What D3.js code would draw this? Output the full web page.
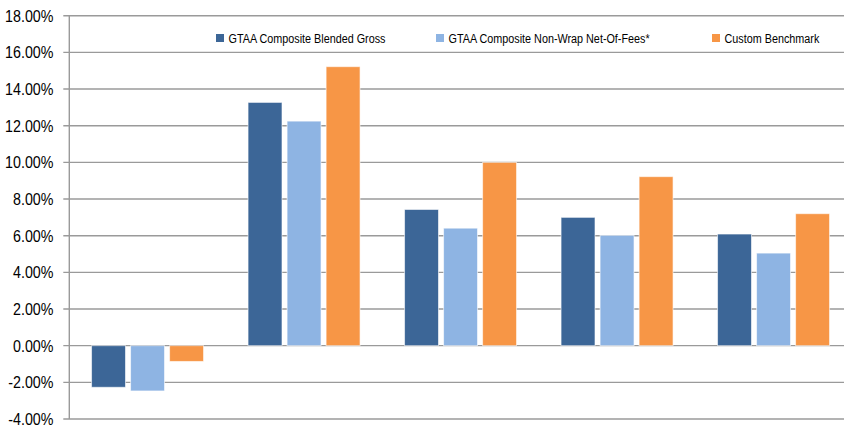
<!DOCTYPE html>
<html>
<head>
<meta charset="utf-8">
<script src="https://cdn.jsdelivr.net/npm/d3@7"></script>
<style>
    body { margin: 0; background: #fff; }
    text { font-family: "Liberation Sans", Arial, sans-serif; fill: #000; }
</style>
</head>
<body>
<svg id="chart" width="844" height="427"></svg>
<script>
var groups = ['G1', 'G2', 'G3', 'G4', 'G5'];
var seriesNames = ['GTAA Composite Blended Gross', 'GTAA Composite Non-Wrap Net-Of-Fees*', 'Custom Benchmark'];
var seriesColors = ['#3c6697', '#8eb4e3', '#f79646'];
var blendedGross = [-2.27, 13.27, 7.43, 7.0, 6.09];
var nonWrapNet = [-2.47, 12.25, 6.41, 6.02, 5.05];
var customBench = [-0.86, 15.22, 10.0, 9.22, 7.2];
var yTicks = [-4, -2, 0, 2, 4, 6, 8, 10, 12, 14, 16, 18];

var values = [blendedGross, nonWrapNet, customBench];

var svg = d3.select('#chart');

var y = d3.scaleLinear()
    .domain([-4, 18])
    .range([419, 15.7]);

var x0 = d3.scaleBand()
    .domain(groups)
    .range([69.3, 69.3 + 5 * 156.5])
    .padding(0);

var x1 = d3.scaleBand()
    .domain(seriesNames)
    .range([x0.bandwidth() / 2 - 56, x0.bandwidth() / 2 + 56])
    .paddingInner(0.13);

// gridlines
svg.append('g')
    .selectAll('line')
    .data(yTicks)
    .enter().append('line')
    .attr('x1', 63.3)
    .attr('x2', 852)
    .attr('y1', d => y(d))
    .attr('y2', d => y(d))
    .attr('stroke', '#9a9a9a')
    .attr('stroke-width', 1.4)

// y axis line
svg.append('line')
    .attr('x1', 69.3)
    .attr('x2', 69.3)
    .attr('y1', y(18))
    .attr('y2', y(-4))
    .attr('stroke', '#9a9a9a')
    .attr('stroke-width', 1.4)

// tick labels (squeezed to look like the narrow office font)
svg.append('g')
    .selectAll('g')
    .data(yTicks)
    .enter().append('g')
    .attr('transform', d => 'translate(53.5,' + y(d) + ') scale(0.84,1)')
    .append('text')
    .attr('dy', '0.36em')
    .attr('text-anchor', 'end')
    .style('font-size', '17px')
    .text(d => d.toFixed(2) + '%')

// bars
var rows = [];
groups.forEach((g, gi) => {
    seriesNames.forEach((s, si) => {
        rows.push({ group: g, series: s, value: values[si][gi], color: seriesColors[si] })
    })
})

svg.append('g')
    .selectAll('rect')
    .data(rows)
    .enter().append('rect')
    .attr('x', d => x0(d.group) + x1(d.series))
    .attr('width', x1.bandwidth())
    .attr('y', d => y(Math.max(0, d.value)))
    .attr('height', d => Math.abs(y(d.value) - y(0)))
    .attr('fill', d => d.color)
    .attr('stroke', 'rgba(255,255,255,0.6)')
    .attr('stroke-width', 1)

// legend
var legendX = [216, 436, 712];
var legend = svg.append('g')
    .selectAll('g')
    .data(seriesNames)
    .enter().append('g')
    .attr('transform', (d, i) => 'translate(' + legendX[i] + ',34)')
legend.append('rect')
    .attr('width', 8)
    .attr('height', 8)
    .attr('fill', (d, i) => seriesColors[i])
legend.append('text')
    .attr('transform', 'translate(12.5,8.5) scale(0.8,1)')
    .style('font-size', '13.5px')
    .text(d => d)
</script>
</body>
</html>
